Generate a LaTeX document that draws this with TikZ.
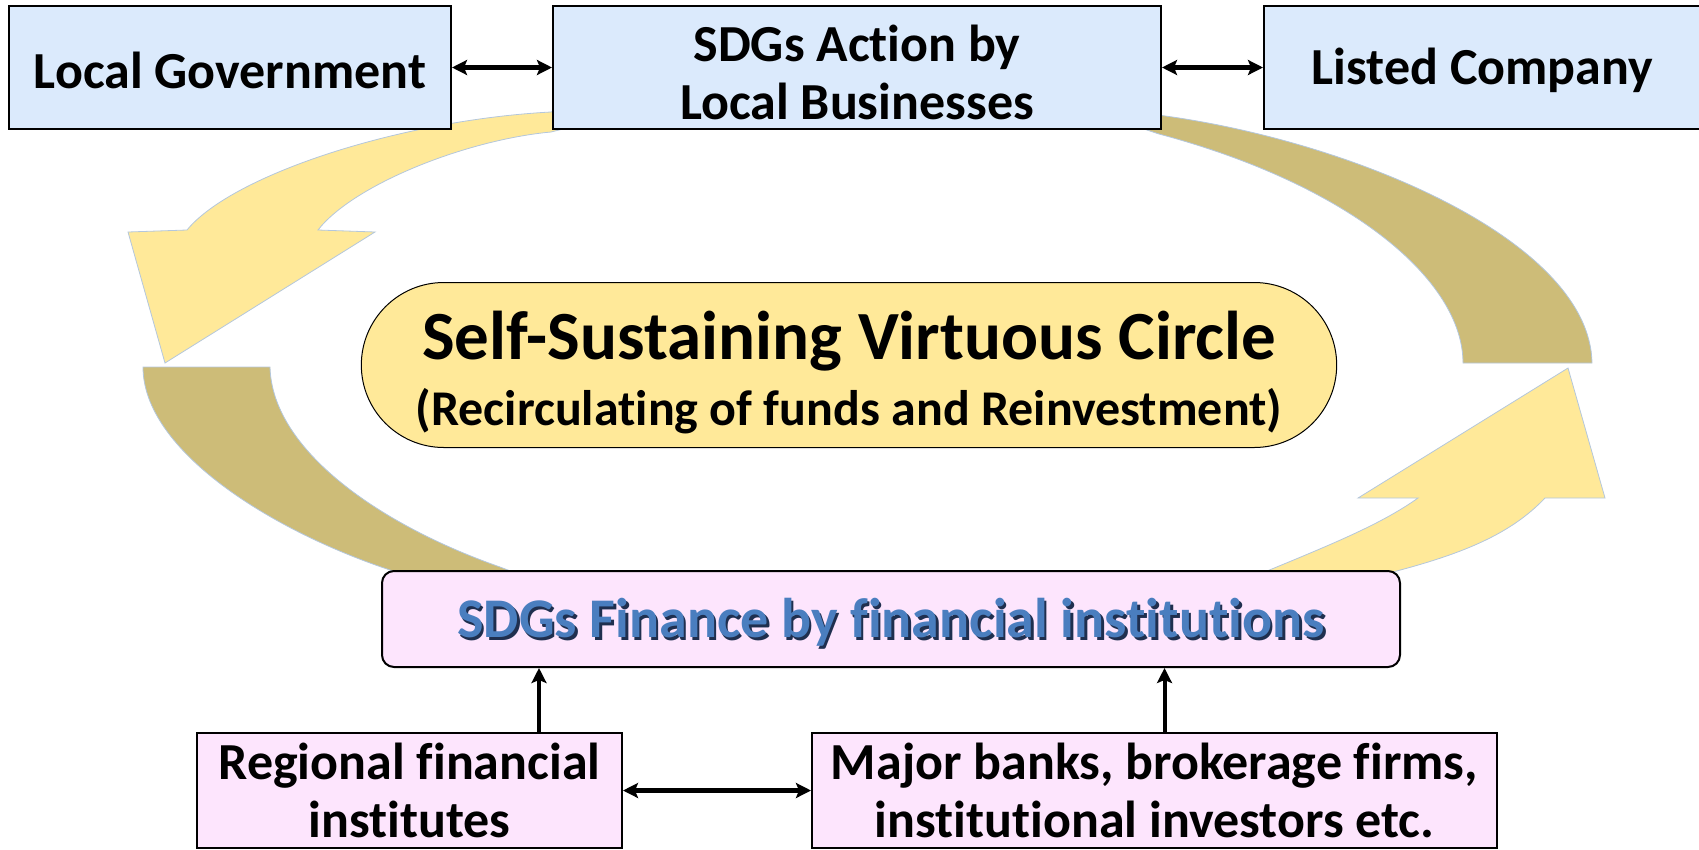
\documentclass[tikz,border=0pt]{standalone}
\usepackage{fontspec}
\setmainfont{Carlito}[Ligatures=NoCommon]
\usepackage{tikz}
\usetikzlibrary{positioning,shapes.misc,arrows.meta}
\definecolor{boxblue}{HTML}{DBEAFC}
\definecolor{ringlight}{HTML}{FFE999}
\definecolor{ringdark}{HTML}{CDBC78}
\definecolor{ringedge}{HTML}{B4C7DC}
\definecolor{finpink}{HTML}{FDE5FD}
\definecolor{finblue}{HTML}{4A7EBF}
\definecolor{finshadow}{HTML}{1F2F4F}
\newcommand{\shadowed}[1]{\makebox[0pt][l]{\hspace{2.5pt}\raisebox{-2.5pt}{\color{finshadow}#1}}{\color{finblue}#1}}

\begin{document}
\begin{tikzpicture}[x=1pt,y=-1pt,>={Stealth[length=15pt,width=15pt,inset=3pt]},node distance=100pt,
      topbox/.style={draw,line width=2pt,fill=boxblue,minimum height=123pt,inner sep=0pt,
        align=center,font=\bfseries\fontsize{52}{58}\selectfont},
      lowbox/.style={draw,line width=2pt,fill=finpink,minimum height=115pt,inner sep=0pt,
        align=center,font=\bfseries\fontsize{52}{58}\selectfont},
      ringpiece/.style={draw=ringedge,line width=0.8pt},
      linkarrow/.style={<->,line width=4.5pt},
      feedarrow/.style={->,line width=4pt}]
    \useasboundingbox (0,0) rectangle (1699,849);
			\path[ringpiece,fill=ringlight] (600,100) -- (551,112) .. controls (400,120) and (232,175) .. (187,230)
        -- (128,232) -- (165,363) -- (375,232) -- (318,230) .. controls (353,185) and (465,140) .. (551,132)
        -- (575,126) -- cycle;
			\path[ringpiece,fill=ringdark] (143,367) -- (270,367) .. controls (272,450) and (380,525) .. (500,567)
        -- (560,590) -- (450,592) -- (390,570) .. controls (270,530) and (143,450) .. (143,367) -- cycle;
			\path[ringpiece,fill=ringlight] (1250,578) .. controls (1330,545) and (1380,525) .. (1418,498)
        -- (1358,498) -- (1568,368) -- (1605,498) -- (1545,498) .. controls (1510,535) and (1460,555) .. (1385,574)
        -- cycle;
			\path[ringpiece,fill=ringdark] (1100,100) -- (1158,115) .. controls (1350,140) and (1590,240) .. (1592,363)
        -- (1463,363) .. controls (1463,280) and (1350,185) .. (1159,134) -- (1135,126) -- cycle;
			\node[topbox,minimum width=442pt] (gov) at (230,67.5) {\rule{0pt}{42pt}Local Government};
			\node[topbox,minimum width=608pt] (sdgact) [right=of gov] {\rule{0pt}{46pt}SDGs Action by\\Local Businesses};
			\node[topbox,minimum width=437pt] (listed) [right=101pt of sdgact] {\rule{0pt}{42pt}Listed Company};
			\node[draw,line width=1pt,fill=ringlight,rounded rectangle,minimum width=982pt,minimum height=165pt,
        align=center,font=\bfseries] (circle) at (849,365)
        {\fontsize{69}{69}\selectfont\rule{0pt}{63pt}Self-Sustaining Virtuous Circle\\[16pt]
         \fontsize{50}{60}\selectfont (Recirculating of funds and Reinvestment)};
			\node[draw,line width=2pt,fill=finpink,rounded corners=12pt,minimum width=1018pt,minimum height=96pt,
        font=\bfseries\fontsize{56}{60}\selectfont] (fin) at (891,619) {\rule{0pt}{49pt}\shadowed{SDGs Finance by financial institutions}};
			\node[lowbox,minimum width=425pt] (regional) at (409.5,790.5) {Regional financial\\institutes};
			\node[lowbox,minimum width=685pt] (major) [right=188pt of regional] {Major banks, brokerage firms,\\institutional investors etc.};
			\coordinate (regup) at ([xshift=-84pt]regional.north east);
			\coordinate (majup) at ([xshift=10pt]major.north);
			\path
				(gov) edge[linkarrow] (sdgact)
				(sdgact) edge[linkarrow] (listed)
				(regional) edge[linkarrow] (major)
				(regup) edge[feedarrow] (regup |- fin.south)
				(majup) edge[feedarrow] (majup |- fin.south);
		\end{tikzpicture}
\end{document}
